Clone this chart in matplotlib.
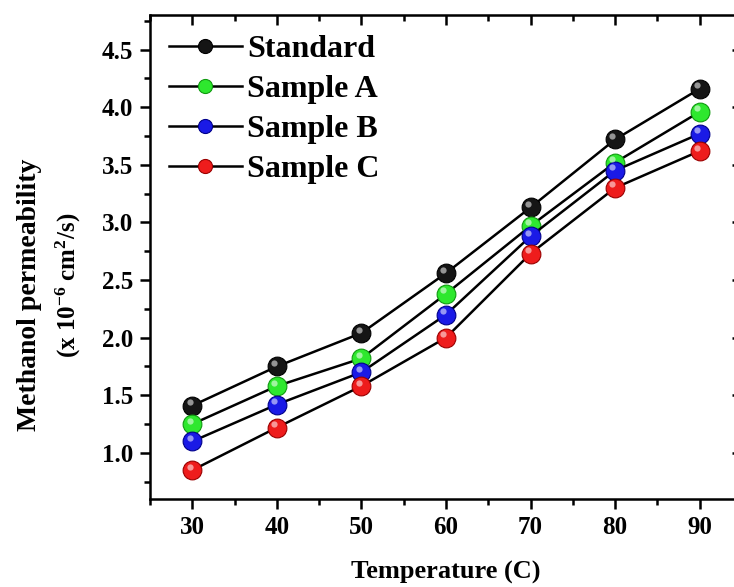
import matplotlib
matplotlib.use('Agg')
import matplotlib.pyplot as plt
import matplotlib.transforms as mtransforms
from matplotlib.ticker import MultipleLocator

plt.rcParams['font.family'] = 'Liberation Serif'
plt.rcParams['font.weight'] = 'bold'
plt.rcParams['mathtext.fontset'] = 'custom'
plt.rcParams['mathtext.rm'] = 'Liberation Serif:bold'
plt.rcParams['mathtext.default'] = 'rm'

# data
temperature = [30, 40, 50, 60, 70, 80, 90]
standard = [1.41, 1.75, 2.04, 2.56, 3.13, 3.72, 4.16]
sample_a = [1.25, 1.58, 1.82, 2.38, 2.97, 3.52, 3.96]
sample_b = [1.10, 1.42, 1.70, 2.20, 2.88, 3.45, 3.77]
sample_c = [0.85, 1.22, 1.58, 2.00, 2.73, 3.30, 3.62]

series = [("Standard", standard, "#151515", "#000000"),
          ("Sample A", sample_a, "#2ee82e", "#109a10"),
          ("Sample B", sample_b, "#1a1ae6", "#00008a"),
          ("Sample C", sample_c, "#ee1c1c", "#9a0000")]

fig = plt.figure(figsize=(7.34, 5.87), dpi=100)
ax = fig.add_axes([150/734, 88/587, 592/734, 484/587])

# little highlight on each ball
hl = mtransforms.offset_copy(ax.transData, fig=fig, x=-2.0, y=2.5, units='points')

for name, vals, col, edge in series:
    ax.plot(temperature, vals, '-o', color='black', lw=1.8,
            marker='o', markersize=13.5, markerfacecolor=col,
            markeredgecolor=edge, markeredgewidth=0.8, label=name, zorder=3)
    ax.plot(temperature, vals, 'o', transform=hl, markersize=4.5,
            markerfacecolor='white', markeredgewidth=0, alpha=0.55, zorder=4)

ax.set_xlim(25, 95)
ax.set_ylim(0.6, 4.8)
ax.xaxis.set_major_locator(MultipleLocator(10))
ax.xaxis.set_minor_locator(MultipleLocator(5))
ax.yaxis.set_major_locator(MultipleLocator(0.5))
ax.yaxis.set_minor_locator(MultipleLocator(0.25))
ax.set_xticks([30, 40, 50, 60, 70, 80, 90])

for s in ax.spines.values():
    s.set_linewidth(1.8)
ax.tick_params(which='both', direction='out', width=1.8, labelsize=18, top=False, right=False)
ax.tick_params(which='major', length=7, pad=5)
ax.tick_params(which='minor', length=4)

# inward ticks on top and right
ax2 = ax.secondary_xaxis('top')
ax2.xaxis.set_major_locator(MultipleLocator(10))
ax2.xaxis.set_minor_locator(MultipleLocator(5))
ax2.tick_params(which='both', direction='in', width=1.8, labeltop=False)
ax2.tick_params(which='major', length=7)
ax2.tick_params(which='minor', length=4)
ay2 = ax.secondary_yaxis('right')
ay2.yaxis.set_major_locator(MultipleLocator(0.5))
ay2.yaxis.set_minor_locator(MultipleLocator(0.25))
ay2.tick_params(which='both', direction='in', width=1.8, labelright=False)
ay2.tick_params(which='major', length=7)
ay2.tick_params(which='minor', length=4)

ax.set_xlabel("Temperature (C)", fontsize=19, fontweight='bold', labelpad=16)
fig.text(30/734, 1 - 295/587, "Methanol permeability", rotation=90,
         fontsize=20, fontweight='bold', ha='center', va='center')
fig.text(68/734, 1 - 285/587, r"(x 10$^{-6}$ cm$^{2}$/s)", rotation=90,
         fontsize=18, fontweight='bold', ha='center', va='center')

ax.legend(loc='upper left', frameon=False, fontsize=23, handlelength=2.3,
          handletextpad=0.15, labelspacing=0.33, borderaxespad=0.0,
          markerscale=0.75, bbox_to_anchor=(0.01, 0.985))

fig.savefig("out.png", dpi=100)
